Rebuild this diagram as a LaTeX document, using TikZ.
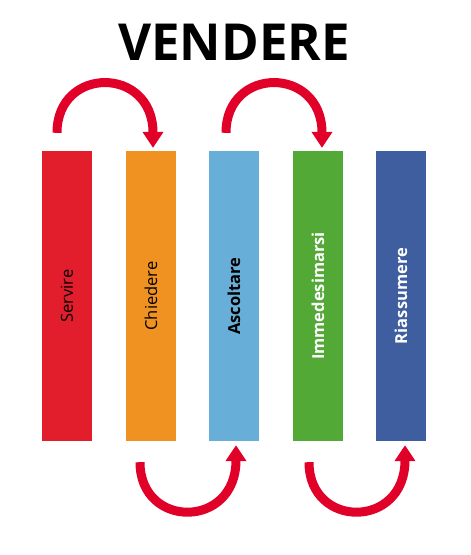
\documentclass[tikz,border=0pt]{standalone}
\usepackage{fontspec}
\usepackage{graphicx}
\setmainfont{Open Sans}
\newfontfamily\titlefont{Open Sans}
\usetikzlibrary{arrows.meta}

\definecolor{cred}{RGB}{226,29,44}
\definecolor{corange}{RGB}{240,146,34}
\definecolor{clight}{RGB}{103,174,217}
\definecolor{cgreen}{RGB}{83,169,54}
\definecolor{cdark}{RGB}{63,94,160}
\definecolor{arrowred}{RGB}{225,0,40}

\begin{document}
\begin{tikzpicture}[x=1pt,y=-1pt,
    stripe/.style={rectangle,minimum width=50pt,minimum height=290pt,inner sep=0pt,font=\fontsize{16.5}{16.5}\selectfont},
    hop/.style={line width=9pt,draw=arrowred,-{Triangle[width=20pt,length=16pt]}}]

    % Fix the page size
    \useasboundingbox (0,0) rectangle (471,555);

    % Title
    \node[anchor=base,font=\titlefont\bfseries\fontsize{51}{51}\selectfont] (title) at (234,60) {VENDERE};

    % Draw the five stripes
    \node[stripe,fill=cred] (servire) at (67,296) {\rotatebox{90}{Servire}};
    \node[stripe,fill=corange] (chiedere) at (151,296) {\rotatebox{90}{Chiedere}};
    \node[stripe,fill=clight] (ascoltare) at (234,296) {\rotatebox{90}{\bfseries Ascoltare}};
    \node[stripe,fill=cgreen,text=white] (immedesimarsi) at (318,296) {\rotatebox{90}{\bfseries Immedesimarsi}};
    \node[stripe,fill=cdark,text=white] (riassumere) at (401,296) {\rotatebox{90}{\bfseries Riassumere}};

    % Arrows over the top
    \draw[hop] ([xshift=-10pt,yshift=18pt]servire.north) .. controls +(0,-67) and +(0,-82) .. ([xshift=2pt,yshift=3pt]chiedere.north);
    \draw[hop] ([xshift=-8pt,yshift=18pt]ascoltare.north) .. controls +(0,-67) and +(0,-82) .. ([xshift=4pt,yshift=3pt]immedesimarsi.north);

    % Arrows underneath
    \draw[hop] ([xshift=-11pt,yshift=-21pt]chiedere.south) .. controls +(0,67) and +(0,84) .. ([xshift=2pt,yshift=-4pt]ascoltare.south);
    \draw[hop] ([xshift=-9pt,yshift=-21pt]immedesimarsi.south) .. controls +(0,67) and +(0,84) .. ([xshift=4pt,yshift=-4pt]riassumere.south);
\end{tikzpicture}
\end{document}
